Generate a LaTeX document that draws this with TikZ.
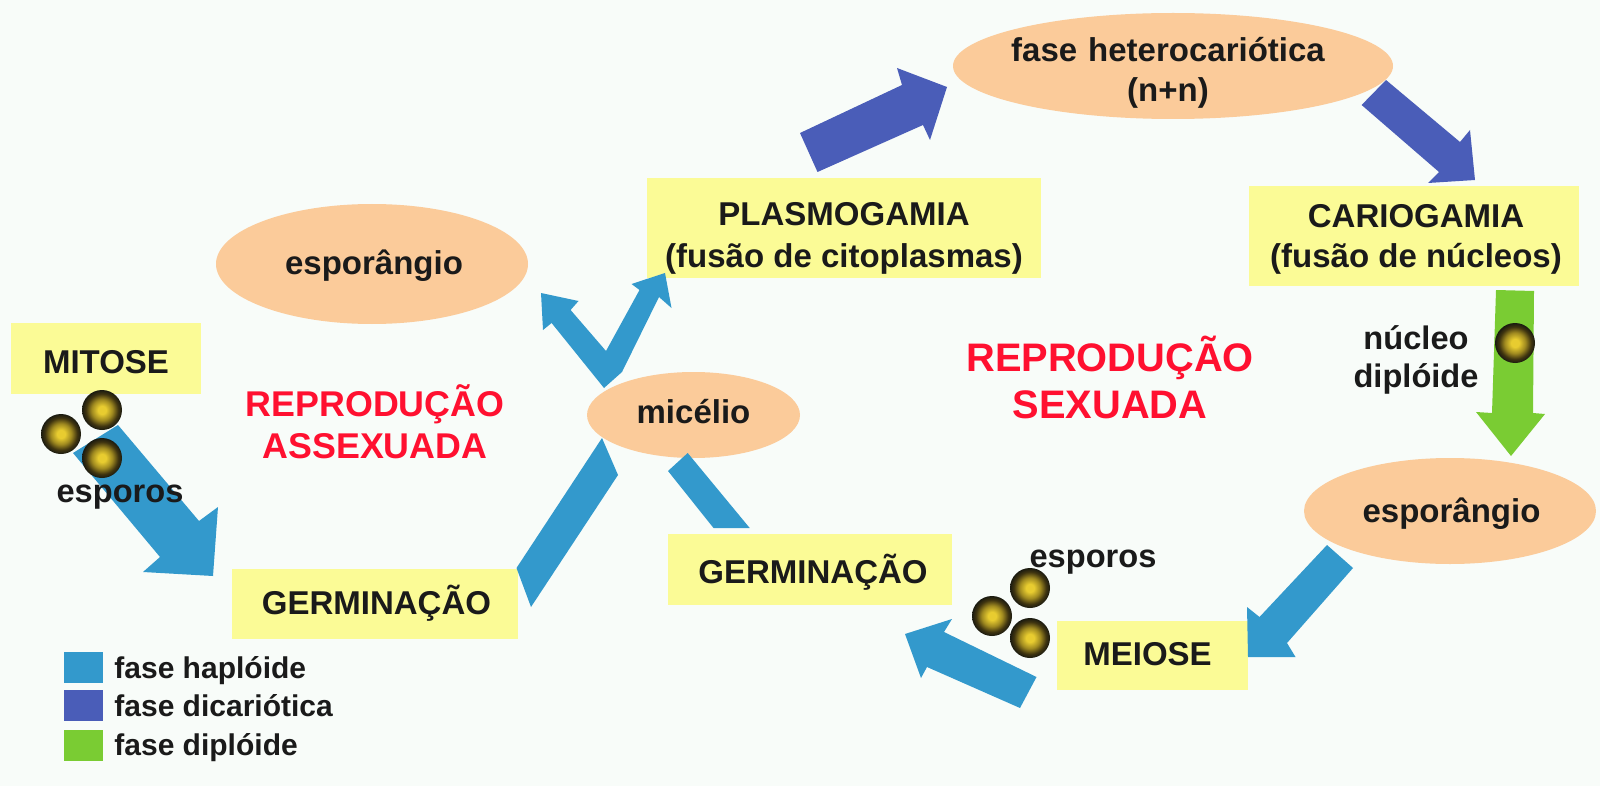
\documentclass[tikz,border=0pt]{standalone}
\usepackage{fontspec}
\setmainfont{Liberation Sans}
\usetikzlibrary{shapes.geometric}
\definecolor{bgc}{HTML}{F8FCF9}
\definecolor{boxy}{HTML}{FBFB96}
\definecolor{peach}{HTML}{FBCB9A}
\definecolor{hap}{HTML}{3399CC}
\definecolor{dic}{HTML}{4A5DB8}
\definecolor{dip}{HTML}{7ACC33}
\definecolor{ink}{HTML}{1A1A1A}
\definecolor{redt}{HTML}{FF1030}
\definecolor{sa}{HTML}{E8CC30}
\definecolor{sb}{HTML}{A08A20}
\definecolor{sc}{HTML}{403510}
\definecolor{sd}{HTML}{1A1A10}
\pgfdeclareradialshading{sporeshade}{\pgfpoint{0bp}{0bp}}{color(0bp)=(sa); color(5bp)=(sa); color(13bp)=(sb); color(20bp)=(sc); color(25bp)=(sd); color(50bp)=(sd)}
\tikzset{
  boxn/.style={rectangle,fill=boxy,inner sep=0pt,align=center,text=ink,font=\fontsize{16.5}{19}\bfseries\selectfont},
  elln/.style={ellipse,fill=peach,inner sep=0pt,align=center,text=ink,font=\fontsize{16.5}{19}\bfseries\selectfont},
  lab/.style={inner sep=0pt,align=center,text=ink,font=\fontsize{16.3}{19}\bfseries\selectfont},
  legt/.style={inner sep=0pt,anchor=west,text=ink,font=\fontsize{15}{18}\bfseries\selectfont},
  titl/.style={inner sep=0pt,align=center,text=redt},
  spore/.style={circle,minimum size=20pt,inner sep=0pt,shading=sporeshade},
  legbox/.style={rectangle,minimum width=19.5pt,minimum height=15.5pt,inner sep=0pt}
}
\begin{document}
\begin{tikzpicture}[x=0.5pt,y=-0.5pt]
\fill[bgc] (0,0) rectangle (1600,786);
\useasboundingbox (0,0) rectangle (1600,786);
% nodes
\node[boxn,text height=15.3pt,text depth=0pt,minimum width=94.8pt,minimum height=35.5pt] (mitose) at (106,358.5) {MITOSE};
\node[boxn,text height=10.2pt,text depth=0pt,minimum width=143pt,minimum height=35pt] (germA) at (375,604) {\hspace*{1.5pt}GERMINAÇÃO};
\node[boxn,text height=14.3pt,text depth=0pt,minimum width=142pt,minimum height=35.5pt] (germB) at (810,569.5) {\hspace*{3pt}GERMINAÇÃO};
\node[boxn,text height=10.2pt,text depth=0pt,minimum width=95.5pt,minimum height=34.5pt] (meiose) at (1152.5,655.5) {MEIOSE\hspace*{5pt}};
\node[boxn,text height=39.8pt,text depth=0pt,minimum width=196.8pt,minimum height=50pt] (plasmo) at (844,228) {PLASMOGAMIA\\[2pt](fusão de citoplasmas)};
\node[boxn,text height=31.4pt,text depth=0pt,minimum width=165pt,minimum height=50pt] (cario) at (1413.5,236) {\hspace*{2.5pt}CARIOGAMIA\\[1pt]\hspace*{2.5pt}(fusão de núcleos)};
\node[elln,text height=0pt,text depth=4.2pt,text width=100pt,minimum width=220pt,minimum height=53pt] (hetero) at (1173,66) {\makebox[100pt][c]{fase heterocariótica\hspace*{5pt}}\\[1pt]\makebox[100pt][c]{(n+n)\hspace*{5pt}}};
\node[elln,text height=10.7pt,text depth=0pt,minimum width=156pt,minimum height=60pt] (espA) at (372,264) {\hspace*{2pt}esporângio};
\node[elln,text height=8.7pt,text depth=0pt,minimum width=106.5pt,minimum height=43pt] (mice) at (693.5,415) {micélio};
\node[elln,text height=11.8pt,text depth=0pt,minimum width=146pt,minimum height=53pt] (espB) at (1450,511) {\hspace*{1.5pt}esporângio};
% block arrows
\fill[hap] (118,425)--(199,521)--(218,507)--(213,576)--(143,572)--(160,557)--(73,453)--cycle;
\fill[hap] (516.5,568)--(531,607)--(618,475)--(602,438)--cycle;
\fill[hap] (541,293)--(578.5,301)--(570.6,310)--(606,351)--(639.5,290)--(631.5,284)--(665,273)--(671.5,308)--(659,297)--(622,372)--(604,388)--(551.6,323)--(543,330)--cycle;
\fill[hap] (687.7,453)--(668,471)--(713.5,528)--(749.7,528)--cycle;
\fill[hap] (905,634)--(952,619)--(944,632)--(1036.5,677)--(1020,708)--(927,667)--(921,678)--cycle;
\fill[hap] (1327,545)--(1353,568)--(1287,643)--(1295.5,657)--(1248,657)--(1247,607)--(1259.5,617)--cycle;
\fill[dic] (800,133)--(817.5,172)--(923,125)--(930,140)--(947,87)--(897,68)--(902,85)--cycle;
\fill[dic] (1386,80)--(1361.6,105)--(1439,172)--(1428,183)--(1475,180)--(1470,130)--(1460,142)--cycle;
\fill[dip] (1496,290)--(1534,291)--(1533,413)--(1545,414)--(1511,456)--(1476,412)--(1492,413)--cycle;
% spores
\node[spore] (s1) at (102,410) {};
\node[spore] (s2) at (61,434) {};
\node[spore] (s3) at (102,458) {};
\node[spore] (s4) at (992,616) {};
\node[spore] (s5) at (1030,588) {};
\node[spore] (s6) at (1030,638) {};
\node[spore] (s7) at (1515,343) {};
% labels
\node[lab] (espoA) at (120,497) {esporos};
\node[lab] (espoB) at (1093,562) {esporos};
\node[lab] (nuc) at (1416,360) {núcleo\\diplóide};
\node[titl,font=\fontsize{17.9}{20.5}\bfseries\selectfont] (tA) at (375,421.5) {REPRODUÇÃO\\[0.5pt]ASSEXUADA};
\node[titl,font=\fontsize{19.9}{23.5}\bfseries\selectfont] (tB) at (1110,377.5) {REPRODUÇÃO\\SEXUADA};
% legend
\node[legbox,fill=hap] (l1) at (83.5,667.5) {};
\node[legbox,fill=dic] (l2) at (83.5,705.5) {};
\node[legbox,fill=dip] (l3) at (83.5,745.5) {};
\node[legt] (t1) at (114,671) {fase haplóide};
\node[legt] (t2) at (114,706) {fase dicariótica};
\node[legt] (t3) at (114,748) {fase diplóide};
\end{tikzpicture}
\end{document}
